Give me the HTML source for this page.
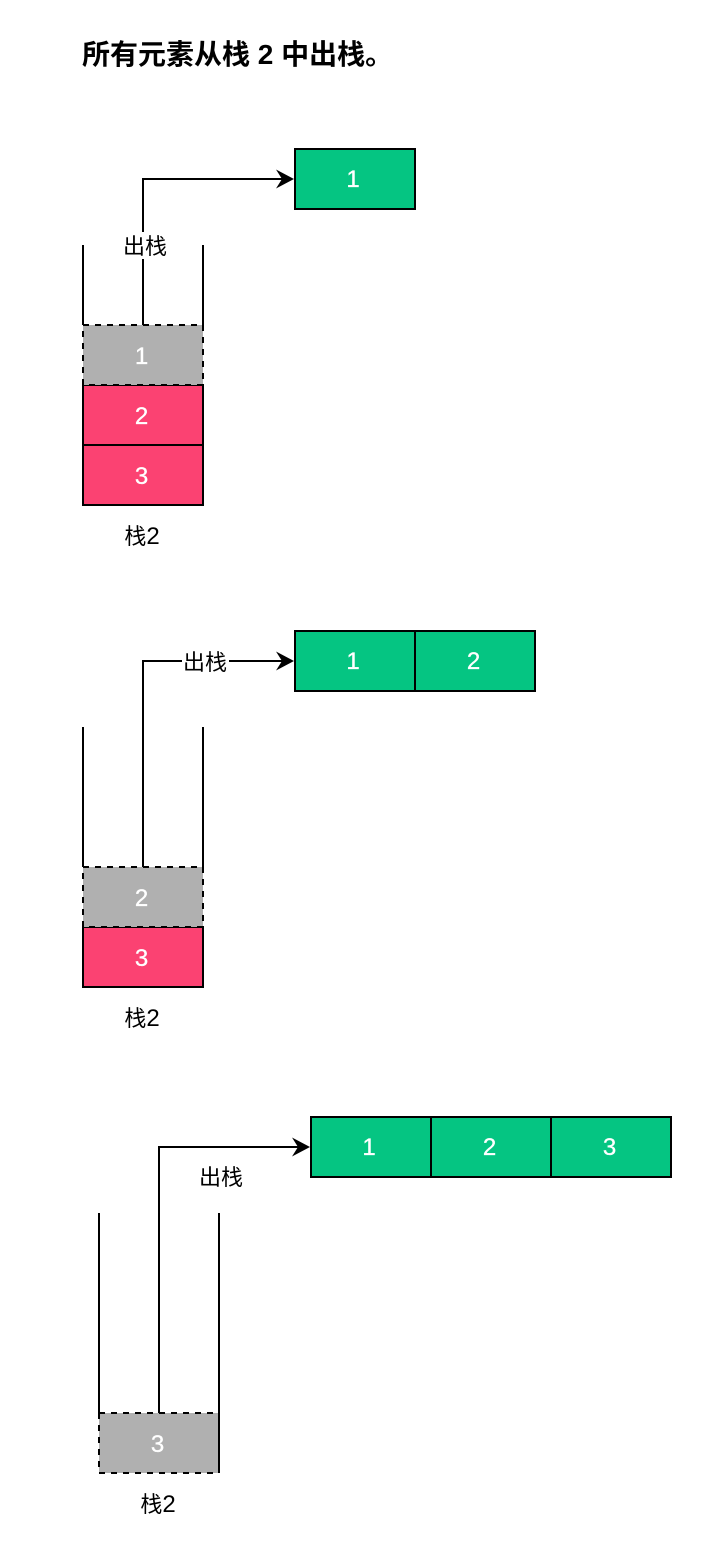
<!DOCTYPE html>
<html>
<head>
<meta charset="utf-8">
<style>
html,body{margin:0;padding:0;background:#fff;}
svg{display:block;}
text{font-family:"Liberation Sans","Noto Sans CJK SC",sans-serif;}
.n{font-size:24px;fill:#fff;stroke:#fff;stroke-width:.3px;text-anchor:middle;}
.l{font-size:22px;fill:#000;text-anchor:middle;}
.l tspan{font-size:24px;}
.t{font-size:28px;font-weight:bold;fill:#000;}
.d{fill:none;stroke:#000;stroke-width:2;stroke-dasharray:6 6;}
.s{fill:none;stroke:#000;stroke-width:2;}
</style>
</head>
<body>
<svg width="728" height="1554" viewBox="0 0 728 1554" xmlns="http://www.w3.org/2000/svg">
<defs>
<g id="ah"><path d="M0 0 L-18 -9.5 L-12 0 L-18 9.5 Z" fill="#000"/></g>
</defs>
<rect width="728" height="1554" fill="#fff"/>
<text class="t" x="82" y="64">所有元素从栈 2 中出栈。</text>

<!-- Group 1 -->
<rect x="295" y="149" width="120" height="60" fill="#05c582" stroke="#000" stroke-width="2"/>
<text class="n" x="353" y="187">1</text>
<path class="s" d="M143 325 V179 H283"/>
<use href="#ah" x="294" y="179"/>
<rect x="122" y="232" width="47" height="27" fill="#fff"/>
<text class="l" x="145" y="254">出栈</text>
<rect x="83" y="385" width="120" height="60" fill="#fb4272" stroke="#000" stroke-width="2"/>
<rect x="83" y="445" width="120" height="60" fill="#fb4272" stroke="#000" stroke-width="2"/>
<rect x="83" y="325" width="120" height="60" fill="#b0b0b0"/>
<rect class="d" x="83" y="325" width="120" height="60"/>
<path class="s" d="M83 245 V325 M203 245 V325 M83 385 V505 H203 V385"/>
<text class="n" x="141.5" y="364">1</text>
<text class="n" x="141.5" y="424">2</text>
<text class="n" x="141.5" y="484">3</text>
<text class="l" x="142" y="544">栈<tspan>2</tspan></text>

<!-- Group 2 -->
<rect x="295" y="631" width="120" height="60" fill="#05c582" stroke="#000" stroke-width="2"/>
<rect x="415" y="631" width="120" height="60" fill="#05c582" stroke="#000" stroke-width="2"/>
<text class="n" x="353" y="669">1</text>
<text class="n" x="473.5" y="669">2</text>
<path class="s" d="M143 867 V661 H283"/>
<use href="#ah" x="294" y="661"/>
<rect x="182" y="648" width="47" height="27" fill="#fff"/>
<text class="l" x="205" y="670">出栈</text>
<rect x="83" y="927" width="120" height="60" fill="#fb4272" stroke="#000" stroke-width="2"/>
<rect x="83" y="867" width="120" height="60" fill="#b0b0b0"/>
<rect class="d" x="83" y="867" width="120" height="60"/>
<path class="s" d="M83 727 V867 M203 727 V867 M83 927 V987 H203 V927"/>
<text class="n" x="141.5" y="906">2</text>
<text class="n" x="141.5" y="966">3</text>
<text class="l" x="142" y="1026">栈<tspan>2</tspan></text>

<!-- Group 3 -->
<rect x="311" y="1117" width="120" height="60" fill="#05c582" stroke="#000" stroke-width="2"/>
<rect x="431" y="1117" width="120" height="60" fill="#05c582" stroke="#000" stroke-width="2"/>
<rect x="551" y="1117" width="120" height="60" fill="#05c582" stroke="#000" stroke-width="2"/>
<text class="n" x="369" y="1155">1</text>
<text class="n" x="489.5" y="1155">2</text>
<text class="n" x="609.5" y="1155">3</text>
<path class="s" d="M159 1413 V1147 H299"/>
<use href="#ah" x="310" y="1147"/>
<text class="l" x="221" y="1185">出栈</text>
<rect x="99" y="1413" width="120" height="60" fill="#b0b0b0"/>
<path class="s" d="M99 1213 V1413 M219 1213 V1473"/>
<path class="d" d="M99 1413 H219 M99 1413 V1473 H219"/>
<text class="n" x="157.5" y="1452">3</text>
<text class="l" x="158" y="1512">栈<tspan>2</tspan></text>
</svg>
</body>
</html>
